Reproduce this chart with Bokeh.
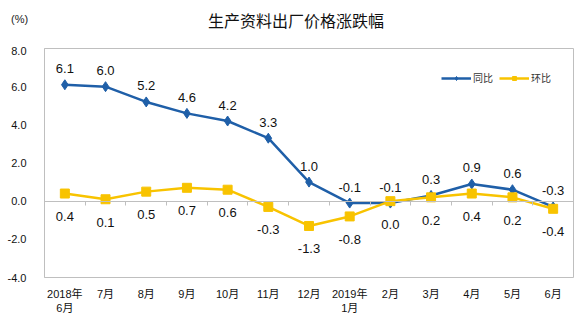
from bokeh.plotting import figure
from bokeh.layouts import column
from bokeh.models import (Range1d, FixedTicker, LinearAxis, Legend, LegendItem,
                          Div)
from bokeh.core.properties import value
from bokeh.embed import file_html
from bokeh.resources import INLINE

# ---- data ----
months = ["2018年\n6月", "7月", "8月", "9月", "10月", "11月", "12月",
          "2019年\n1月", "2月", "3月", "4月", "5月", "6月"]
yoy = [6.1, 6.0, 5.2, 4.6, 4.2, 3.3, 1.0, -0.1, -0.1, 0.3, 0.9, 0.6, -0.3]
mom = [0.4, 0.1, 0.5, 0.7, 0.6, -0.3, -1.3, -0.8, 0.0, 0.2, 0.4, 0.2, -0.4]
y_ticks = [-4, -2, 0, 2, 4, 6, 8]
title_text = "生产资料出厂价格涨跌幅"
unit_text = "(%)"
name_yoy = "同比"
name_mom = "环比"

BLUE = "#1f5fa8"
YELLOW = "#f8c300"
GRAY = "#bfbfbf"
NUM_FONT = "Liberation Sans, Noto Sans CJK SC"
CJK_FONT = "Noto Sans CJK SC"

x = list(range(len(months)))

HEAD_H = 46

header = Div(
    text=(
        f'<div style="position:relative;width:588px;height:{HEAD_H}px;'
        f'background:white;">'
        f'<span style="position:absolute;left:11px;top:12px;'
        f'font-family:Liberation Sans,Noto Sans CJK SC;font-size:11px;'
        f'line-height:14px;color:#222;">{unit_text}</span>'
        f'<span style="position:absolute;left:0;width:592px;top:10px;'
        f'text-align:center;font-family:Noto Sans CJK SC;font-size:16px;'
        f'line-height:20px;color:#111;">{title_text}</span>'
        f'</div>'),
    width=588, height=HEAD_H, margin=0, styles={"margin": "0", "padding": "0"})

p = figure(width=588, height=321 - HEAD_H, output_backend="svg",
           toolbar_location=None, margin=0,
           x_range=Range1d(-0.5, len(months) - 0.5),
           y_range=Range1d(y_ticks[0], y_ticks[-1]),
           min_border_left=44, min_border_right=15,
           min_border_top=2, min_border_bottom=44)
p.background_fill_color = "white"
p.border_fill_color = "white"
p.outline_line_color = GRAY
p.xgrid.visible = False
p.ygrid.visible = False

# y axis
p.yaxis.ticker = FixedTicker(ticks=y_ticks)
p.yaxis.major_label_overrides = {t: f"{t:.1f}" for t in y_ticks}
p.yaxis.axis_line_color = GRAY
p.yaxis.major_tick_line_color = None
p.yaxis.minor_tick_line_color = None
p.yaxis.major_label_text_font = NUM_FONT
p.yaxis.major_label_text_font_size = "11px"
p.yaxis.major_label_text_color = "#111111"
p.yaxis.major_label_standoff = 12

# bottom category labels
p.xaxis.ticker = FixedTicker(ticks=x)
p.xaxis.major_label_overrides = {i: m for i, m in zip(x, months)}
p.xaxis.axis_line_color = None
p.xaxis.major_tick_line_color = None
p.xaxis.minor_tick_line_color = None
p.xaxis.major_label_text_font = NUM_FONT
p.xaxis.major_label_text_font_size = "11px"
p.xaxis.major_label_text_color = "#111111"
p.xaxis.major_label_standoff = 4

# zero line with ticks between categories
zero_axis = LinearAxis(fixed_location=0,
                       ticker=FixedTicker(ticks=[i + 0.5 for i in x[:-1]]),
                       axis_line_color=GRAY, major_tick_line_color=GRAY,
                       major_tick_in=0, major_tick_out=4,
                       minor_tick_line_color=None,
                       major_label_text_font_size="0px",
                       major_label_text_color=None)
p.add_layout(zero_axis, "below")

# series
bl = p.line(x, yoy, line_color=BLUE, line_width=2.5)
bm = p.scatter(x, yoy, marker="diamond", size=10, fill_color=BLUE,
               line_color=BLUE)
yl = p.line(x, mom, line_color=YELLOW, line_width=2.5)
ym = p.scatter(x, mom, marker="square", size=9, fill_color=YELLOW,
               line_color=YELLOW)

# data labels
p.text(x, yoy, text=[f"{v:.1f}" for v in yoy], y_offset=-16,
       text_align="center", text_baseline="middle",
       text_font=value("Liberation Sans"), text_font_size="13px",
       text_color="#111111")
p.text(x, mom, text=[f"{v:.1f}" for v in mom], y_offset=23,
       text_align="center", text_baseline="middle",
       text_font=value("Liberation Sans"), text_font_size="13px",
       text_color="#111111")

legend = Legend(items=[LegendItem(label=name_yoy, renderers=[bl, bm]),
                       LegendItem(label=name_mom, renderers=[yl, ym])],
                orientation="horizontal", location="top_right",
                border_line_color=None, background_fill_alpha=0,
                glyph_width=30, glyph_height=10, label_standoff=2,
                spacing=6, padding=0, margin=22,
                label_text_font=CJK_FONT, label_text_font_size="10px",
                label_text_color="#333333")
p.add_layout(legend)

layout = column(header, p, spacing=0, margin=0)
open("out.html", "w").write(file_html(layout, INLINE))
